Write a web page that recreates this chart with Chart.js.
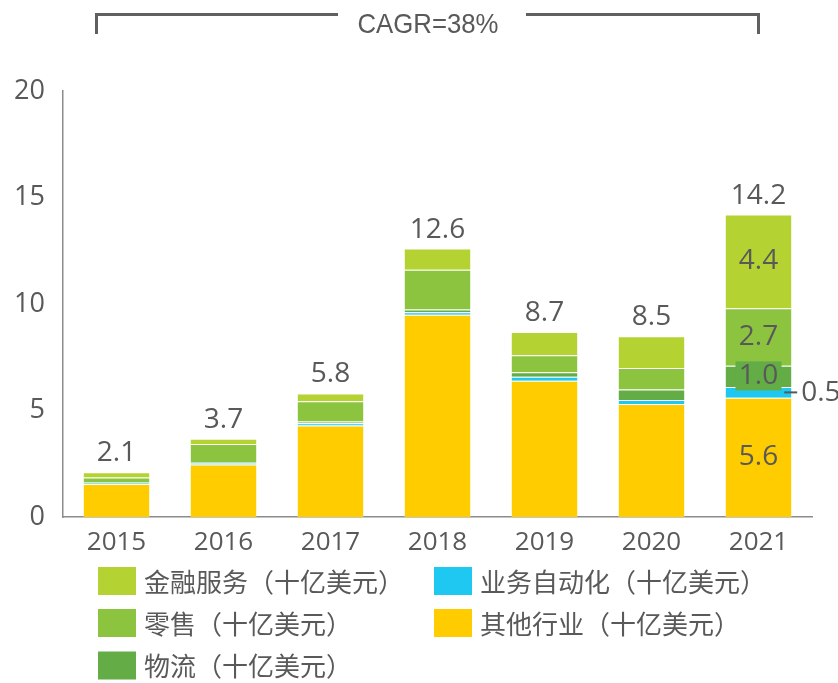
<!DOCTYPE html>
<html>
<head>
<meta charset="utf-8">
<script src="https://cdn.jsdelivr.net/npm/chart.js@4/dist/chart.umd.min.js"></script>
<style>
html,body{margin:0;padding:0;background:#ffffff;}
#wrap{position:relative;width:838px;height:683px;}
canvas{display:block;}
</style>
</head>
<body>
<div id="wrap"><canvas id="c" width="838" height="683"></canvas></div>
<script>
// ---- data ----
const categories = ['2015', '2016', '2017', '2018', '2019', '2020', '2021'];
const otherValues      = [1.55, 2.47, 4.30, 9.50, 6.40, 5.30, 5.6];
const automationValues = [0.05, 0.07, 0.10, 0.11, 0.19, 0.19, 0.5];
const logisticsValues  = [0.02, 0.03, 0.08, 0.13, 0.20, 0.50, 1.0];
const retailValues     = [0.23, 0.86, 0.95, 1.87, 0.80, 1.00, 2.7];
const financeValues    = [0.25, 0.24, 0.37, 0.99, 1.10, 1.50, 4.4];
const totals = [2.1, 3.7, 5.8, 12.6, 8.7, 8.5, 14.2];
const yTicks = [0, 5, 10, 15, 20];
const seriesNames = {
  finance: '金融服务（十亿美元）',
  automation: '业务自动化（十亿美元）',
  retail: '零售（十亿美元）',
  other: '其他行业（十亿美元）',
  logistics: '物流（十亿美元）'
};
const cagrText = 'CAGR=38%';
const detailCategory = '2021';

// ---- styles ----
const colors = {
  finance: '#B4D232',
  retail: '#8CC440',
  logistics: '#63AC46',
  automation: '#1EC8F0',
  other: '#FFCC00'
};
const textColor = '#595959';
const axisColor = '#8c8c8c';

Chart.defaults.font.family = '"Open Sans", "Noto Sans", sans-serif';
Chart.defaults.color = textColor;

function ds(key, values) {
  return {
    key: key,
    label: seriesNames[key],
    data: values,
    backgroundColor: colors[key],
    borderColor: 'rgba(255,255,255,0.2)',
    borderWidth: 1,
    barPercentage: 0.63,
    categoryPercentage: 1.0,
    stack: 's'
  };
}

const datasets = [
  ds('other', otherValues),
  ds('automation', automationValues),
  ds('logistics', logisticsValues),
  ds('retail', retailValues),
  ds('finance', financeValues)
];

const labelPlugin = {
  id: 'valueLabels',
  afterDatasetsDraw(chart) {
    const ctx = chart.ctx;
    const n = chart.data.datasets.length;
    const topMeta = chart.getDatasetMeta(n - 1);
    ctx.save();
    ctx.fillStyle = textColor;
    ctx.font = '28px "Open Sans", "Noto Sans", sans-serif';
    ctx.textAlign = 'center';
    ctx.textBaseline = 'alphabetic';
    totals.forEach((t, i) => {
      const bar = topMeta.data[i];
      ctx.fillText(t.toFixed(1), bar.x, bar.y - 11);
    });
    const ci = categories.indexOf(detailCategory);
    chart.data.datasets.forEach((d, di) => {
      const bar = chart.getDatasetMeta(di).data[ci];
      const cy = (bar.y + bar.base) / 2;
      const txt = d.data[ci].toFixed(1);
      ctx.textBaseline = 'middle';
      if (d.key === 'automation') {
        const right = bar.x + bar.width / 2;
        ctx.strokeStyle = textColor;
        ctx.lineWidth = 2;
        ctx.beginPath();
        ctx.moveTo(right - 8, cy);
        ctx.lineTo(right + 5, cy);
        ctx.stroke();
        ctx.textAlign = 'left';
        ctx.fillText(txt, right + 9, cy + 1);
        ctx.textAlign = 'center';
      } else {
        if (d.key === 'logistics') {
          ctx.fillStyle = colors.logistics;
          ctx.fillRect(bar.x - 23, cy - 15, 46, 29);
          ctx.fillStyle = textColor;
        }
        ctx.fillText(txt, bar.x, cy);
      }
    });
    ctx.restore();
  }
};

const decorPlugin = {
  id: 'decor',
  afterDraw(chart) {
    const ctx = chart.ctx;
    ctx.save();
    // CAGR bracket
    ctx.strokeStyle = '#606060';
    ctx.lineWidth = 3;
    ctx.beginPath();
    ctx.moveTo(96.5, 34); ctx.lineTo(96.5, 14.5); ctx.lineTo(338, 14.5);
    ctx.moveTo(526, 14.5); ctx.lineTo(758.5, 14.5); ctx.lineTo(758.5, 34);
    ctx.stroke();
    ctx.fillStyle = textColor;
    ctx.textAlign = 'center';
    ctx.textBaseline = 'middle';
    ctx.translate(428, 25);
    ctx.scale(0.92, 1);
    ctx.font = '28px "Liberation Sans", Arial, sans-serif';
    ctx.fillText(cagrText, 0, 0);
    ctx.restore();

    // legend (two columns)
    const order = [
      ['finance', 0, 0], ['retail', 0, 1], ['logistics', 0, 2],
      ['automation', 1, 0], ['other', 1, 1]
    ];
    const colX = [98, 434];
    const rowY = [567, 609, 651.5];
    ctx.save();
    ctx.font = '26px "Noto Sans CJK SC", sans-serif';
    ctx.textAlign = 'left';
    ctx.textBaseline = 'middle';
    order.forEach(([key, c, r]) => {
      const d = chart.data.datasets.find(x => x.key === key);
      ctx.fillStyle = d.backgroundColor;
      ctx.fillRect(colX[c], rowY[r], 38, 28);
      ctx.fillStyle = textColor;
      ctx.fillText(d.label, colX[c] + 46, rowY[r] + 15);
    });
    ctx.restore();
  }
};

new Chart(document.getElementById('c'), {
  type: 'bar',
  data: { labels: categories, datasets: datasets },
  options: {
    responsive: false,
    animation: false,
    devicePixelRatio: 1,
    layout: { padding: { left: 15, right: 26, top: 91, bottom: 0 } },
    plugins: { legend: { display: false }, tooltip: { enabled: false } },
    scales: {
      x: {
        stacked: true,
        grid: { display: false, drawTicks: false, tickLength: 0 },
        border: { display: true, color: axisColor, width: 1.5 },
        ticks: { color: textColor, font: { size: 26 }, padding: 10 },
        afterFit: s => { s.height = 166; }
      },
      y: {
        stacked: true,
        min: yTicks[0],
        max: yTicks[yTicks.length - 1],
        afterBuildTicks: s => { s.ticks = yTicks.map(v => ({ value: v })); },
        grid: { display: false, drawTicks: false, tickLength: 0 },
        border: { display: true, color: axisColor, width: 1.5 },
        ticks: { color: textColor, font: { size: 27 }, padding: 18 },
        afterFit: s => { s.width = 48; }
      }
    }
  },
  plugins: [labelPlugin, decorPlugin]
});
</script>
</body>
</html>
